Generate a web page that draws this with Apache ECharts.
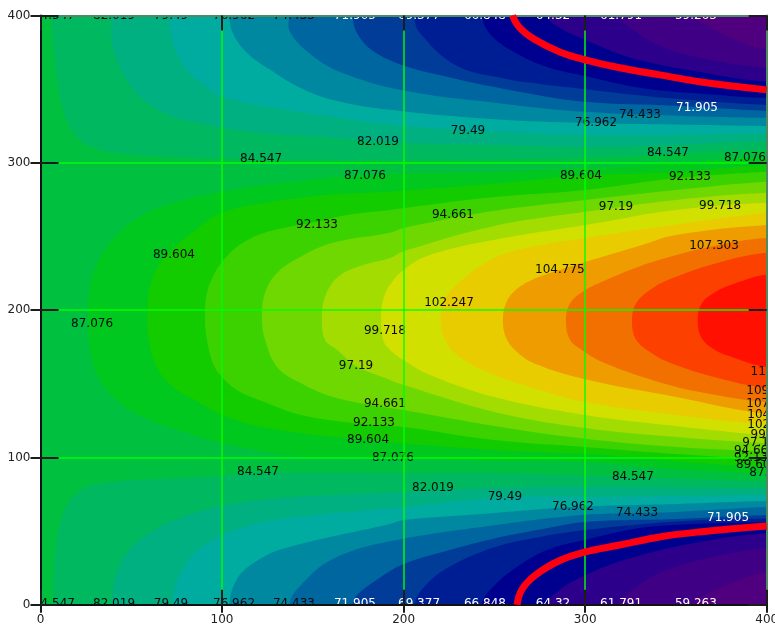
<!DOCTYPE html>
<html>
<head>
<meta charset="utf-8">
<style>html,body{margin:0;padding:0;background:#fff}#c{width:775px;height:626px}</style>
<script src="https://cdn.jsdelivr.net/npm/echarts@6/dist/echarts.min.js"></script>
</head>
<body>
<div id="c"></div>
<script>
// Contour lines: [x, y] in axis units. "top" is the upper branch, "bot" the lower one.
const top59=[[359,400],[366,394],[380,385],[400,377]];
const bot59=[[359,0],[370,8.6],[385,16.8],[400,22]];
const top61=[[318,400],[325,391.6],[341,379.4],[363,371.3],[400,364.5]];
const bot61=[[318,0],[326,10],[341,21.5],[363,30.4],[400,38.5]];
const top64=[[279,400],[286,391.6],[300,383.5],[325,371.3],[363,361.7],[400,355]];
const bot64=[[279,0],[286,10],[300,20],[325,31.7],[363,42.6],[400,48.7]];
const top66=[[243,400],[249,385.5],[264,373],[280.6,364.4],[300,359],[330,351],[363,347],[400,344]];
const bot66=[[243,0],[250,13],[264,27],[280.6,38],[300,44],[330,52],[363,55],[400,56]];
const top69=[[206,400],[208.5,389],[229,366],[256,357],[275,353.5],[300,350],[350,343.4],[400,339.3]];
const bot69=[[206,0],[212,13],[225.6,26],[250,39],[275,46],[300,50.7],[350,56.5],[400,58.5]];
const top71=[[172,400],[174.4,388],[183,376],[200,366],[225,358],[256,350],[300,341.4],[350,338.7],[400,335.3]];
const bot71=[[172,0],[174,6],[183,15],[200,27.6],[225,37],[250,45],[275,51],[300,56.2],[350,58.2],[400,60.9]];
const top74=[[137,400],[137.4,389],[148.6,373.8],[165,361.6],[200,349],[255.6,340],[300,334.6],[350,331.9],[400,330.5]];
const bot74=[[137,0],[143,12.7],[161,31],[192.4,43],[250,54],[300,61],[328.6,62.3],[350,63],[400,66.3]];
const top76=[[104,400],[106,388],[113.7,374.6],[125,364.4],[143,351],[161,342.7],[192.4,336],[250,329.5],[300,327],[350,326],[400,325]];
const bot76=[[104,0],[108,17],[117,28],[133.6,38],[192.4,54.8],[200,57.5],[250,62.3],[293,66.3],[350,68.4],[400,70.4]];
const top79=[[71,400],[73,381],[80.7,363],[91.7,351.5],[100,344.8],[124.7,338],[161,331.2],[192.4,325.8],[250,321],[300,319],[350,319],[400,320]];
const bot79=[[72.5,0],[75.6,17],[84,33.7],[95,44],[100,47.3],[115.4,54],[137,59],[200,66.3],[256,73],[300,73],[350,73.8],[400,74.5]];
const top82=[[39,400],[39.5,381],[43.8,365],[51,349.7],[60.3,339.4],[73,331.2],[87.8,327],[100,323.7],[124.7,320],[161,317],[192.4,314],[250,312],[300,310.7],[350,312],[400,314.9]];
const bot82=[[39.4,0],[42,21.5],[49.3,37.8],[60.3,48.7],[75,58],[100,67],[137,73],[192.4,76],[250,79.2],[300,80],[350,79.2],[400,78.6]];
const top84=[[6.4,400],[7,381.3],[9,358],[12.4,336],[20,317.6],[32.8,308.9],[51,305.5],[100,302.7],[200,302],[300,303.3],[350,306],[400,309]];
const bot84=[[7,0],[8,32.6],[11.8,60],[20,75.8],[33,82.5],[100,87.3],[120,89.5],[200,89.4],[250,89.4],[300,87.7],[350,85.7],[400,83.7]];
const top87=[[26.2,198],[27.6,218.5],[32.8,235.4],[42.1,251],[54.8,263.3],[73,272.8],[100,280.3],[133.6,286.4],[177.6,291.8],[250,293.8],[300,296.6],[350,299.9],[400,304]];
const bot87=[[26.2,198],[26.7,177.7],[31.7,154.6],[42,139],[56.5,127.5],[80.6,116.6],[100,109.8],[135.8,101.7],[194,99.6],[250,97.6],[300,96.9],[350,92.2],[400,88.8]];
const top89=[[58.8,195],[60.3,215.7],[65.8,232],[73,242],[87.8,256.6],[100,266.2],[124.8,273],[161,278.4],[192.4,280.4],[250,285.7],[300,291.4],[350,293.8],[400,298.6]];
const bot89=[[58.8,195],[59.7,179.8],[64,161.4],[73,147.8],[87.8,137],[100,128.8],[124.8,120],[180.4,111.8],[250,105],[300,102.3],[350,97.6],[400,93.5]];
const top92=[[90.6,194.7],[91.7,211.7],[96,225.2],[100,232.7],[109.8,244.3],[124.7,253],[152.3,260],[168.8,264.6],[192.4,268],[250,276.7],[300,281.6],[350,289.5],[400,293.8]];
const bot92=[[90.6,194.7],[91.7,179.8],[95,164],[100,154.6],[109.8,144.5],[124.7,137],[143,129],[172,123.4],[200,120.7],[250,111.8],[300,107.1],[350,102.3],[400,98.9]];
const top94=[[122,194.7],[123.7,211.7],[130.3,225.2],[143,236],[161,245.7],[192.4,252.5],[200,255.8],[250,267.4],[300,274.8],[350,281.6],[400,287.2]];
const bot94=[[122,194.7],[123.7,179.8],[130.3,161.4],[143,150.6],[161,141],[188.6,134.3],[200,132.2],[250,121.3],[300,112.6],[350,107.1],[400,104.4]];
const top97=[[155,194.7],[156.7,209],[163.3,221.9],[174.3,229.3],[192.4,235.4],[200,240],[250,257.1],[300,266.7],[350,274.8],[400,279.6]];
const bot97=[[155,194.7],[156.7,179.8],[163.3,173],[173.8,162],[192.4,152.6],[200,149.2],[250,130.9],[300,120],[350,113.9],[400,109.8]];
const top99=[[187.6,193],[188.7,207],[192.4,217],[200,227.3],[214.6,237.5],[250,247.8],[300,257.8],[350,268],[400,272.8]];
const bot99=[[187.6,193],[188.7,179.8],[192.4,173],[200,166],[214.6,156],[250,141],[300,128.8],[350,121.3],[400,115.2]];
const top102=[[220.6,193],[221.6,205],[228.3,216],[244.8,232],[263,241],[300,249],[355,259],[400,266]];
const bot102=[[220.6,193],[222.8,180],[231,168],[250,156],[272,147],[300,137.6],[350,128.8],[400,122.6]];
const top104=[[254.7,193],[256.5,205],[262,214],[272.4,221.5],[286,227.3],[300,232.7],[330,243.7],[350,251],[400,257.8]];
const bot104=[[254.7,193],[256.5,181],[262,172],[272.4,163.5],[300,153],[350,141],[400,129.5]];
const top107=[[289.4,193],[291.6,204.5],[298,212],[309,219],[336.9,232.6],[371,243.6],[400,249]];
const bot107=[[289.4,193],[291.6,180],[298,173],[309,165],[336.9,152.6],[363,144.4],[400,137.6]];
const top109=[[325.8,193],[328,204.5],[335.7,213.7],[345.6,220.5],[372.6,232],[400,239]];
const bot109=[[325.8,193],[328,180],[335.7,171.5],[345.6,164.8],[372.6,154],[400,147.2]];
const top112=[[362,193],[364.2,204.5],[371.4,212],[382.4,218],[400,224]];
const bot112=[[362,193],[364.2,181],[371.4,173],[382.4,167.5],[400,161.4]];

// Red curve
const redTop=[[260,400],[264,391.6],[272.5,383.5],[286,375.3],[300,369.9],[319,364.5],[341,359.7],[363,355],[400,349.5]];
const redBot=[[262.5,0],[265,10],[272.5,20],[286,30],[300,35.8],[319,40.5],[341,46],[363,49.4],[400,53.4]];

const bandTops=[top59,top61,top64,top66,top69,top71,top74,top76,top79,top82,top84,top87,top89,top92,top94,top97,top99,top102,top104,top107,top109,top112];
const bandBots=[bot59,bot61,bot64,bot66,bot69,bot71,bot74,bot76,bot79,bot82,bot84,bot87,bot89,bot92,bot94,bot97,bot99,bot102,bot104,bot107,bot109,bot112];
const bandColors=['#3f0085','#2c008a','#00008f','#001e94','#003c98','#0066a0','#0088a0','#00aca0','#00b080','#00b860','#00c040','#00c81e','#12cc00','#3cd200','#6ed800','#a2dc00','#d2e000','#e8cc00','#ee9c00','#f27000','#fb4000','#ff1000'];
const lowestColor='#50007f';

// Contour value labels: [x, y, text]
const blackLabels=[
 [7.4,399.5,'84.547'],[40.5,399.5,'82.019'],[71.9,399.5,'79.49'],[106.6,399.5,'76.962'],[139.6,399.5,'74.433'],
 [7.4,0.5,'84.547'],[40.5,0.5,'82.019'],[71.9,0.5,'79.49'],[106.6,0.5,'76.962'],[139.6,0.5,'74.433'],
 [121.5,302.7,'84.547'],[185.9,314.2,'82.019'],[235.5,321.7,'79.49'],[306,327,'76.962'],[330.2,332.5,'74.433'],
 [345.6,306.7,'84.547'],[388,303.3,'87.076'],[178.7,291,'87.076'],[297.7,291.2,'89.604'],[357.7,290.4,'92.133'],
 [152.3,257.8,'92.133'],[227.2,264.6,'94.661'],[317,270,'97.19'],[374.3,270.7,'99.718'],[371,243.6,'107.303'],
 [286.1,227.3,'104.775'],[73.5,237.5,'89.604'],[225,204.9,'102.247'],[28.4,190.6,'87.076'],[189.7,185.9,'99.718'],
 [173.8,162.1,'97.19'],[189.7,136.3,'94.661'],[183.7,123.4,'92.133'],[180.4,111.8,'89.604'],[194.1,99.6,'87.076'],
 [119.8,90.1,'84.547'],[216.2,79.2,'82.019'],[255.8,73.1,'79.49'],[293.3,66.3,'76.962'],[328.6,62.3,'74.433'],[326.3,86.7,'84.547'],
 [402.7,158,'112.36'],[402.4,145,'109.832'],[402.4,136.3,'107.303'],[403,128.8,'104.775'],[403,122,'102.247'],
 [402.7,115.2,'99.718'],[396,109.8,'97.19'],[393.5,104.4,'94.661'],[393.5,99.6,'92.133'],[394.7,94.9,'89.604'],[402,89.4,'87.076']
];
const whiteLabels=[
 [173.2,399.5,'71.905'],[208.5,399.5,'69.377'],[244.8,399.5,'66.848'],[282.3,399.5,'64.32'],[319.8,399.5,'61.791'],[361,399.5,'59.263'],
 [173.2,0.5,'71.905'],[208.5,0.5,'69.377'],[244.8,0.5,'66.848'],[282.3,0.5,'64.32'],[319.8,0.5,'61.791'],[361,0.5,'59.263'],
 [361.6,337.2,'71.905'],[378.7,58.9,'71.905']
];
const allLabels=blackLabels.map(l=>({l,c:'#0a0a0a'})).concat(whiteLabels.map(l=>({l,c:'#ffffff'})));

const tickInterval=100, axisMin=0, axisMax=400;
const FONT='"DejaVu Sans"';

function baseAxis(extra){
  return Object.assign({type:'value',min:axisMin,max:axisMax,interval:tickInterval,z:4,
    axisLine:{show:false,onZero:false},axisTick:{show:false},axisLabel:{show:false},splitLine:{show:false}},extra);
}
const darkTick={lineStyle:{color:'#1c1c1c',width:2}};
const mainLine={show:true,onZero:false,lineStyle:{color:'#111',width:2}};
const frameLine={show:true,onZero:false,lineStyle:{color:'#4f8a60',width:2}};
const grid={color:'rgba(0,255,0,0.72)',width:2};

const chart=echarts.init(document.getElementById('c'),null,{renderer:'canvas'});
chart.setOption({
  animation:false,
  backgroundColor:'#fff',
  grid:{left:40.5,top:15.5,width:726.2,height:589.2,show:true,backgroundColor:lowestColor,borderWidth:0,outerBoundsMode:'none'},
  xAxis:[
    baseAxis({position:'bottom',axisLine:mainLine,
      axisTick:Object.assign({show:true,length:8},darkTick),
      axisLabel:{show:true,margin:9,color:'#222',fontSize:12,fontFamily:FONT},
      splitLine:{show:true,showMinLine:false,showMaxLine:false,lineStyle:grid}}),
    baseAxis({position:'bottom',axisTick:Object.assign({show:true,inside:true,length:15},darkTick)}),
    baseAxis({position:'top',axisLine:frameLine,axisTick:Object.assign({show:true,inside:true,length:15},darkTick)})
  ],
  yAxis:[
    baseAxis({position:'left',axisLine:mainLine,
      axisTick:Object.assign({show:true,length:10},darkTick),
      axisLabel:{show:true,margin:10,color:'#222',fontSize:12,fontFamily:FONT},
      splitLine:{show:true,showMinLine:false,showMaxLine:false,lineStyle:grid}}),
    baseAxis({position:'left',axisTick:Object.assign({show:true,inside:true,length:18},darkTick)}),
    baseAxis({position:'right',axisLine:frameLine,axisTick:Object.assign({show:true,inside:true,length:18},darkTick)})
  ],
  series:[
    {
      type:'custom',coordinateSystem:'cartesian2d',clip:true,silent:true,z:2,
      data:bandTops.map((t,i)=>[t[0][0],t[0][1]]),
      encode:{x:0,y:1},
      renderItem(params,api){
        const i=params.dataIndex, t=bandTops[i], b=bandBots[i];
        const open=t[0][1]===axisMax;
        const lastT=t[t.length-1], lastB=b[b.length-1];
        let path=[];
        if(open) path.push([-60,440],[t[0][0],440]);
        path=path.concat(t);
        path.push([430,lastT[1]],[430,lastB[1]]);
        const rev=b.slice().reverse();
        path=path.concat(open?rev:rev.slice(0,-1));
        if(open) path.push([b[0][0],-40],[-60,-40]);
        return {type:'polygon',shape:{points:path.map(p=>api.coord(p)),smooth:0.38,smoothConstraint:false},style:{fill:bandColors[i]}};
      }
    },
    {
      type:'custom',coordinateSystem:'cartesian2d',clip:true,silent:true,z:3,
      data:allLabels.map(o=>[o.l[0],o.l[1]]),
      encode:{x:0,y:1},
      renderItem(params,api){
        const o=allLabels[params.dataIndex], p=api.coord([o.l[0],o.l[1]]);
        return {type:'text',style:{text:o.l[2],x:p[0],y:p[1],align:'center',verticalAlign:'middle',
          fill:o.c,font:'12px '+FONT}};
      }
    },
    {type:'line',data:redTop,smooth:0.4,symbol:'none',silent:true,z:6,clip:true,lineStyle:{color:'#ff0010',width:7}},
    {type:'line',data:redBot,smooth:0.4,symbol:'none',silent:true,z:6,clip:true,lineStyle:{color:'#ff0010',width:7}}
  ]
});
</script>
</body>
</html>
